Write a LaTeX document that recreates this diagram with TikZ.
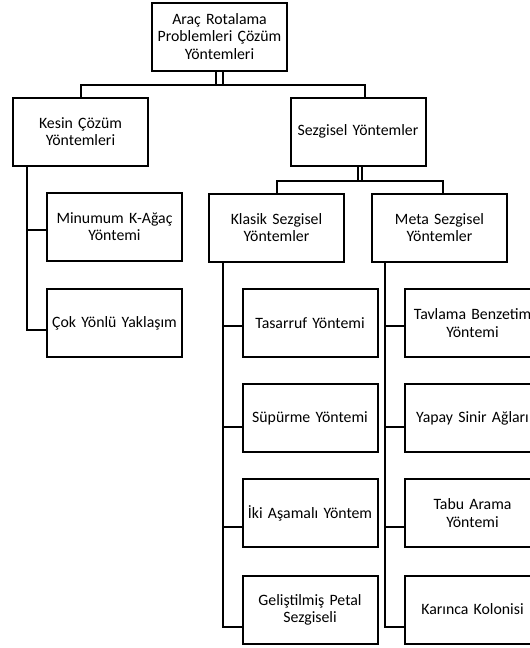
\documentclass[tikz,border=0pt]{standalone}
\usepackage{fontspec}
\setmainfont{Carlito}
\begin{document}
\begin{tikzpicture}[x=1pt,y=-1pt,
  box/.style={draw=black,line width=2pt,minimum width=135pt,minimum height=68pt,
    text width=133pt,align=center,inner sep=0pt,
    font=\fontsize{15.8pt}{17.2pt}\selectfont},
  conn/.style={draw=black,line width=2pt}]
\clip (0,0) rectangle (530,648);
\fill[white] (0,0) rectangle (530,648);
\node[box] (top) at (219.5,36.5) {Araç Rotalama\\Problemleri Çözüm\\Yöntemleri};
\node[box] (kesin) at (80.5,131.5) {Kesin Çözüm\\Yöntemleri};
\node[box] (sezgisel) at (358,131.5) {Sezgisel Yöntemler};
\node[box] (minumum) at (114.5,226.5) {Minumum K-Ağaç\\Yöntemi};
\node[box] (cok) at (114.5,323) {Çok Yönlü Yaklaşım};
\node[box] (klasik) at (276.5,227.5) {Klasik Sezgisel\\Yöntemler};
\node[box] (meta) at (439.5,227.5) {Meta Sezgisel\\Yöntemler};
\node[box] (tasarruf) at (310,323) {Tasarruf Yöntemi};
\node[box] (supurme) at (310,418) {Süpürme Yöntemi};
\node[box] (iki) at (310,513) {İki Aşamalı Yöntem};
\node[box] (gelistir) at (310,609.5) {Geliştilmiş Petal\\Sezgiseli};
\node[box] (tavlama) at (472.5,323) {Tavlama Benzetim\\Yöntemi};
\node[box] (yapay) at (472.5,418) {Yapay Sinir Ağları};
\node[box] (tabu) at (472.5,513) {Tabu Arama\\Yöntemi};
\node[box] (karinca) at (472.5,609.5) {Karınca Kolonisi};
% level 1
\coordinate (h1) at (222.5,85);
\draw[conn] ([xshift=-3.5pt]top.south) -- ([xshift=-3.5pt]top.south |- h1);
\draw[conn] ([xshift=3.5pt]top.south) -- ([xshift=3.5pt]top.south |- h1);
\draw[conn] (kesin.north) |- (h1) -| ([xshift=7pt]sezgisel.north);
% level 2 (sezgisel)
\coordinate (h2) at (360,181);
\draw[conn] (sezgisel.south) -- (sezgisel.south |- h2);
\draw[conn] ([xshift=4pt]sezgisel.south) -- ([xshift=4pt]sezgisel.south |- h2);
\draw[conn] ([xshift=0.5pt]klasik.north) |- (h2) -| ([xshift=3.5pt]meta.north);
% kesin branch
\coordinate (kv) at (27,165);
\draw[conn] (kv) |- ([yshift=-7pt]cok.west);
\draw[conn] ([yshift=-3.5pt]minumum.west) -- ++(-20,0);
% klasik branch
\coordinate (kl) at (223,262);
\draw[conn] (kl) |- ([yshift=-17pt]gelistir.west);
\draw[conn] ([yshift=-3pt]tasarruf.west) -- ++(-20,0);
\draw[conn] ([yshift=-9pt]supurme.west) -- ++(-20,0);
\draw[conn] ([yshift=-13.5pt]iki.west) -- ++(-20,0);
% meta branch
\coordinate (mv) at (385,262);
\draw[conn] (mv) |- ([yshift=-17pt]karinca.west);
\draw[conn] ([yshift=-3pt]tavlama.west) -- ++(-20,0);
\draw[conn] ([yshift=-9pt]yapay.west) -- ++(-20,0);
\draw[conn] ([yshift=-13.5pt]tabu.west) -- ++(-20,0);
\end{tikzpicture}
\end{document}
